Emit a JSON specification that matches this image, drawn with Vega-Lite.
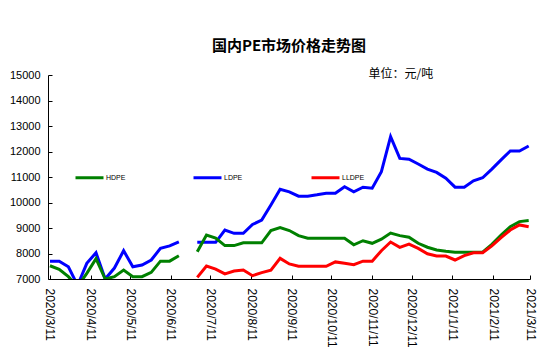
{
  "$schema": "https://vega.github.io/schema/vega-lite/v6.json",
  "width": 482,
  "height": 204,
  "autosize": {"type": "none"},
  "padding": {"left": 48, "top": 75, "right": 20, "bottom": 85},
  "background": "white",
  "title": {"text": "国内PE市场价格走势图", "font": "Noto Sans CJK SC", "fontSize": 15, "fontWeight": "bold", "color": "black", "anchor": "middle", "frame": "group", "offset": 13},
  "data": {"values": [
    {"date": "2020/03/11", "series": "LDPE", "price": 7700},
    {"date": "2020/03/18", "series": "LDPE", "price": 7700},
    {"date": "2020/03/25", "series": "LDPE", "price": 7480},
    {"date": "2020/04/01", "series": "LDPE", "price": 6750},
    {"date": "2020/04/08", "series": "LDPE", "price": 7615},
    {"date": "2020/04/15", "series": "LDPE", "price": 8030},
    {"date": "2020/04/22", "series": "LDPE", "price": 7000},
    {"date": "2020/04/29", "series": "LDPE", "price": 7430},
    {"date": "2020/05/06", "series": "LDPE", "price": 8110},
    {"date": "2020/05/13", "series": "LDPE", "price": 7480},
    {"date": "2020/05/20", "series": "LDPE", "price": 7550},
    {"date": "2020/05/27", "series": "LDPE", "price": 7745},
    {"date": "2020/06/03", "series": "LDPE", "price": 8200},
    {"date": "2020/06/10", "series": "LDPE", "price": 8300},
    {"date": "2020/06/17", "series": "LDPE", "price": 8460},
    {"date": "2020/06/24", "series": "LDPE", "price": null},
    {"date": "2020/07/01", "series": "LDPE", "price": 8440},
    {"date": "2020/07/08", "series": "LDPE", "price": 8440},
    {"date": "2020/07/15", "series": "LDPE", "price": 8440},
    {"date": "2020/07/22", "series": "LDPE", "price": 8920},
    {"date": "2020/07/29", "series": "LDPE", "price": 8790},
    {"date": "2020/08/05", "series": "LDPE", "price": 8790},
    {"date": "2020/08/12", "series": "LDPE", "price": 9140},
    {"date": "2020/08/19", "series": "LDPE", "price": 9310},
    {"date": "2020/08/26", "series": "LDPE", "price": 9900},
    {"date": "2020/09/02", "series": "LDPE", "price": 10520},
    {"date": "2020/09/09", "series": "LDPE", "price": 10420},
    {"date": "2020/09/16", "series": "LDPE", "price": 10250},
    {"date": "2020/09/23", "series": "LDPE", "price": 10250},
    {"date": "2020/09/30", "series": "LDPE", "price": 10300},
    {"date": "2020/10/07", "series": "LDPE", "price": 10360},
    {"date": "2020/10/14", "series": "LDPE", "price": 10360},
    {"date": "2020/10/21", "series": "LDPE", "price": 10620},
    {"date": "2020/10/28", "series": "LDPE", "price": 10420},
    {"date": "2020/11/04", "series": "LDPE", "price": 10600},
    {"date": "2020/11/11", "series": "LDPE", "price": 10560},
    {"date": "2020/11/18", "series": "LDPE", "price": 11210},
    {"date": "2020/11/25", "series": "LDPE", "price": 12580},
    {"date": "2020/12/02", "series": "LDPE", "price": 11730},
    {"date": "2020/12/09", "series": "LDPE", "price": 11700},
    {"date": "2020/12/16", "series": "LDPE", "price": 11510},
    {"date": "2020/12/23", "series": "LDPE", "price": 11310},
    {"date": "2020/12/30", "series": "LDPE", "price": 11180},
    {"date": "2021/01/06", "series": "LDPE", "price": 10950},
    {"date": "2021/01/13", "series": "LDPE", "price": 10600},
    {"date": "2021/01/20", "series": "LDPE", "price": 10600},
    {"date": "2021/01/27", "series": "LDPE", "price": 10850},
    {"date": "2021/02/03", "series": "LDPE", "price": 10970},
    {"date": "2021/02/10", "series": "LDPE", "price": 11310},
    {"date": "2021/02/17", "series": "LDPE", "price": 11670},
    {"date": "2021/02/24", "series": "LDPE", "price": 12020},
    {"date": "2021/03/03", "series": "LDPE", "price": 12020},
    {"date": "2021/03/10", "series": "LDPE", "price": 12215},

    {"date": "2020/03/11", "series": "HDPE", "price": 7520},
    {"date": "2020/03/18", "series": "HDPE", "price": 7380},
    {"date": "2020/03/25", "series": "HDPE", "price": 7090},
    {"date": "2020/04/01", "series": "HDPE", "price": 6700},
    {"date": "2020/04/08", "series": "HDPE", "price": 7220},
    {"date": "2020/04/15", "series": "HDPE", "price": 7800},
    {"date": "2020/04/22", "series": "HDPE", "price": 7000},
    {"date": "2020/04/29", "series": "HDPE", "price": 7090},
    {"date": "2020/05/06", "series": "HDPE", "price": 7350},
    {"date": "2020/05/13", "series": "HDPE", "price": 7090},
    {"date": "2020/05/20", "series": "HDPE", "price": 7090},
    {"date": "2020/05/27", "series": "HDPE", "price": 7260},
    {"date": "2020/06/03", "series": "HDPE", "price": 7700},
    {"date": "2020/06/10", "series": "HDPE", "price": 7700},
    {"date": "2020/06/17", "series": "HDPE", "price": 7910},
    {"date": "2020/06/24", "series": "HDPE", "price": null},
    {"date": "2020/07/01", "series": "HDPE", "price": 8070},
    {"date": "2020/07/08", "series": "HDPE", "price": 8725},
    {"date": "2020/07/15", "series": "HDPE", "price": 8600},
    {"date": "2020/07/22", "series": "HDPE", "price": 8310},
    {"date": "2020/07/29", "series": "HDPE", "price": 8310},
    {"date": "2020/08/05", "series": "HDPE", "price": 8420},
    {"date": "2020/08/12", "series": "HDPE", "price": 8420},
    {"date": "2020/08/19", "series": "HDPE", "price": 8420},
    {"date": "2020/08/26", "series": "HDPE", "price": 8900},
    {"date": "2020/09/02", "series": "HDPE", "price": 9020},
    {"date": "2020/09/09", "series": "HDPE", "price": 8900},
    {"date": "2020/09/16", "series": "HDPE", "price": 8700},
    {"date": "2020/09/23", "series": "HDPE", "price": 8600},
    {"date": "2020/09/30", "series": "HDPE", "price": 8600},
    {"date": "2020/10/07", "series": "HDPE", "price": 8600},
    {"date": "2020/10/14", "series": "HDPE", "price": 8600},
    {"date": "2020/10/21", "series": "HDPE", "price": 8600},
    {"date": "2020/10/28", "series": "HDPE", "price": 8340},
    {"date": "2020/11/04", "series": "HDPE", "price": 8500},
    {"date": "2020/11/11", "series": "HDPE", "price": 8400},
    {"date": "2020/11/18", "series": "HDPE", "price": 8560},
    {"date": "2020/11/25", "series": "HDPE", "price": 8800},
    {"date": "2020/12/02", "series": "HDPE", "price": 8700},
    {"date": "2020/12/09", "series": "HDPE", "price": 8640},
    {"date": "2020/12/16", "series": "HDPE", "price": 8400},
    {"date": "2020/12/23", "series": "HDPE", "price": 8245},
    {"date": "2020/12/30", "series": "HDPE", "price": 8140},
    {"date": "2021/01/06", "series": "HDPE", "price": 8085},
    {"date": "2021/01/13", "series": "HDPE", "price": 8050},
    {"date": "2021/01/20", "series": "HDPE", "price": 8050},
    {"date": "2021/01/27", "series": "HDPE", "price": 8050},
    {"date": "2021/02/03", "series": "HDPE", "price": 8050},
    {"date": "2021/02/10", "series": "HDPE", "price": 8360},
    {"date": "2021/02/17", "series": "HDPE", "price": 8725},
    {"date": "2021/02/24", "series": "HDPE", "price": 9050},
    {"date": "2021/03/03", "series": "HDPE", "price": 9250},
    {"date": "2021/03/10", "series": "HDPE", "price": 9290},

    {"date": "2020/07/01", "series": "LLDPE", "price": 7065},
    {"date": "2020/07/08", "series": "LLDPE", "price": 7510},
    {"date": "2020/07/15", "series": "LLDPE", "price": 7390},
    {"date": "2020/07/22", "series": "LLDPE", "price": 7200},
    {"date": "2020/07/29", "series": "LLDPE", "price": 7310},
    {"date": "2020/08/05", "series": "LLDPE", "price": 7350},
    {"date": "2020/08/12", "series": "LLDPE", "price": 7130},
    {"date": "2020/08/19", "series": "LLDPE", "price": 7250},
    {"date": "2020/08/26", "series": "LLDPE", "price": 7350},
    {"date": "2020/09/02", "series": "LLDPE", "price": 7810},
    {"date": "2020/09/09", "series": "LLDPE", "price": 7590},
    {"date": "2020/09/16", "series": "LLDPE", "price": 7500},
    {"date": "2020/09/23", "series": "LLDPE", "price": 7500},
    {"date": "2020/09/30", "series": "LLDPE", "price": 7500},
    {"date": "2020/10/07", "series": "LLDPE", "price": 7500},
    {"date": "2020/10/14", "series": "LLDPE", "price": 7670},
    {"date": "2020/10/21", "series": "LLDPE", "price": 7615},
    {"date": "2020/10/28", "series": "LLDPE", "price": 7560},
    {"date": "2020/11/04", "series": "LLDPE", "price": 7700},
    {"date": "2020/11/11", "series": "LLDPE", "price": 7700},
    {"date": "2020/11/18", "series": "LLDPE", "price": 8110},
    {"date": "2020/11/25", "series": "LLDPE", "price": 8450},
    {"date": "2020/12/02", "series": "LLDPE", "price": 8240},
    {"date": "2020/12/09", "series": "LLDPE", "price": 8370},
    {"date": "2020/12/16", "series": "LLDPE", "price": 8200},
    {"date": "2020/12/23", "series": "LLDPE", "price": 7990},
    {"date": "2020/12/30", "series": "LLDPE", "price": 7900},
    {"date": "2021/01/06", "series": "LLDPE", "price": 7900},
    {"date": "2021/01/13", "series": "LLDPE", "price": 7745},
    {"date": "2021/01/20", "series": "LLDPE", "price": 7915},
    {"date": "2021/01/27", "series": "LLDPE", "price": 8030},
    {"date": "2021/02/03", "series": "LLDPE", "price": 8030},
    {"date": "2021/02/10", "series": "LLDPE", "price": 8300},
    {"date": "2021/02/17", "series": "LLDPE", "price": 8620},
    {"date": "2021/02/24", "series": "LLDPE", "price": 8920},
    {"date": "2021/03/03", "series": "LLDPE", "price": 9120},
    {"date": "2021/03/10", "series": "LLDPE", "price": 9050}
  ]},
  "mark": {"type": "line", "strokeWidth": 3, "clip": true},
  "encoding": {
    "x": {
      "field": "date", "type": "temporal",
      "scale": {"domain": [{"year": 2020, "month": 3, "date": 9, "hours": 12}, {"year": 2021, "month": 3, "date": 11}]},
      "axis": {
        "values": [
          {"year": 2020, "month": 3, "date": 11}, {"year": 2020, "month": 4, "date": 11},
          {"year": 2020, "month": 5, "date": 11}, {"year": 2020, "month": 6, "date": 11},
          {"year": 2020, "month": 7, "date": 11}, {"year": 2020, "month": 8, "date": 11},
          {"year": 2020, "month": 9, "date": 11}, {"year": 2020, "month": 10, "date": 11},
          {"year": 2020, "month": 11, "date": 11}, {"year": 2020, "month": 12, "date": 11},
          {"year": 2021, "month": 1, "date": 11}, {"year": 2021, "month": 2, "date": 11},
          {"year": 2021, "month": 3, "date": 11}
        ],
        "format": "%Y/%-m/%-d",
        "labelAngle": 90, "labelFont": "Liberation Sans", "labelFontSize": 12, "labelColor": "black",
        "labelPadding": 13, "labelFlush": false, "labelOverlap": false,
        "tickSize": -4, "tickColor": "black", "domainColor": "black", "grid": false, "title": null
      }
    },
    "y": {
      "field": "price", "type": "quantitative",
      "scale": {"domain": [7000, 15000], "nice": false, "zero": false},
      "axis": {
        "values": [7000, 8000, 9000, 10000, 11000, 12000, 13000, 14000, 15000],
        "format": "d",
        "labelFont": "Liberation Sans", "labelFontSize": 11, "labelColor": "black",
        "labelPadding": 12, "tickSize": -4, "tickColor": "black", "domainColor": "black", "grid": false,
        "title": "单位：元/吨", "titleAngle": 0, "titleX": 320, "titleY": -2,
        "titleAlign": "left", "titleBaseline": "middle", "titleFont": "Noto Sans CJK SC",
        "titleFontSize": 12, "titleFontWeight": "normal", "titleColor": "black"
      }
    },
    "color": {
      "field": "series", "type": "nominal",
      "scale": {"domain": ["HDPE", "LDPE", "LLDPE"], "range": ["#008000", "#0000ff", "#ff0000"]},
      "legend": {
        "orient": "none", "legendX": 26, "legendY": 87, "direction": "horizontal", "columns": 3,
        "title": null, "symbolType": "stroke", "symbolSize": 784, "symbolStrokeWidth": 3,
        "labelFont": "Liberation Sans", "labelFontSize": 7, "labelColor": "black", "labelOffset": 1,
        "columnPadding": 58, "gridAlign": "all", "padding": 0
      }
    }
  },
  "config": {"view": {"stroke": null}}
}
